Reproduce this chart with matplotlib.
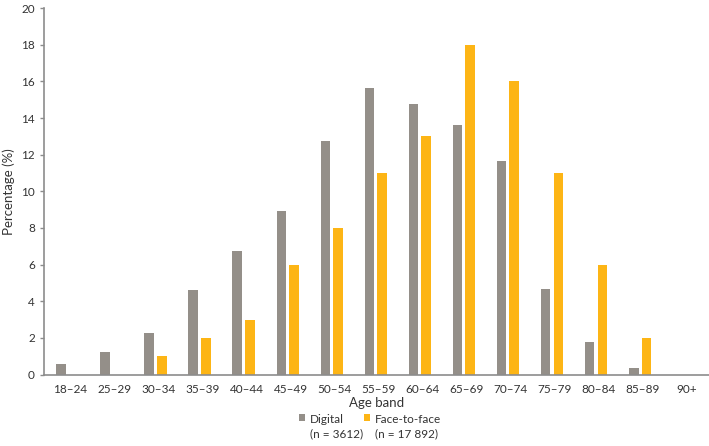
import numpy as np
import matplotlib
matplotlib.use("Agg")
import matplotlib.pyplot as plt

# age bands and percentages
age_bands = ["18–24", "25–29", "30–34", "35–39", "40–44", "45–49", "50–54", "55–59",
             "60–64", "65–69", "70–74", "75–79", "80–84", "85–89", "90+"]
digital = [0.57, 1.22, 2.26, 4.6, 6.75, 8.9, 12.77, 15.65, 14.75, 13.62, 11.65, 4.68, 1.77, 0.37, 0]
face_to_face = [0, 0, 1, 2, 3, 6, 8, 11, 13, 18, 16, 11, 6, 2, 0]

plt.rcParams['font.family'] = ['Lato', 'DejaVu Sans']

gray = '#948f89'
yellow = '#fdb515'
axis_col = '#8c8c8c'
txt = '#333333'

fig = plt.figure(figsize=(7.09, 4.46), dpi=100)
ax = fig.add_axes([0.062, 0.160, 0.938, 0.822])

x = np.arange(len(age_bands))
w = 0.22
ax.bar(x - 0.21, digital, width=w, color=gray, label="Digital\n(n = 3612)")
ax.bar(x + 0.08, face_to_face, width=w, color=yellow, label="Face-to-face\n(n = 17 892)")

ax.set_xlim(-0.6, 14.5)
ax.set_ylim(0, 20)
ax.set_yticks(range(0, 21, 2))
ax.set_xticks(x)
ax.set_xticklabels(age_bands)
ax.tick_params(axis='x', length=0, pad=7, labelsize=8.5, colors=txt)
ax.tick_params(axis='y', length=3, width=1, color=axis_col, labelsize=8.5, labelcolor=txt)

for s in ['top', 'right']:
    ax.spines[s].set_visible(False)
for s in ['left', 'bottom']:
    ax.spines[s].set_color(axis_col)
    ax.spines[s].set_linewidth(1.2)

ax.set_xlabel("Age band", fontsize=9.5, color=txt, labelpad=1)
ax.set_ylabel("Percentage (%)", fontsize=9.5, color=txt)
ax.yaxis.set_label_coords(-0.044, 0.5)

leg = fig.legend(loc='center', bbox_to_anchor=(0.522, 0.043), ncol=2, frameon=False,
                 fontsize=8.5, handlelength=0.5, handleheight=0.5, handletextpad=0.4,
                 columnspacing=0.1, labelspacing=0.2)
for t in leg.get_texts():
    t.set_color(txt)
    t.set_linespacing(1.3)
# square next to the first line of each label
for col in leg._legend_handle_box.get_children():
    for row in col.get_children():
        row.align = 'top'

fig.savefig("out.png", dpi=100)
